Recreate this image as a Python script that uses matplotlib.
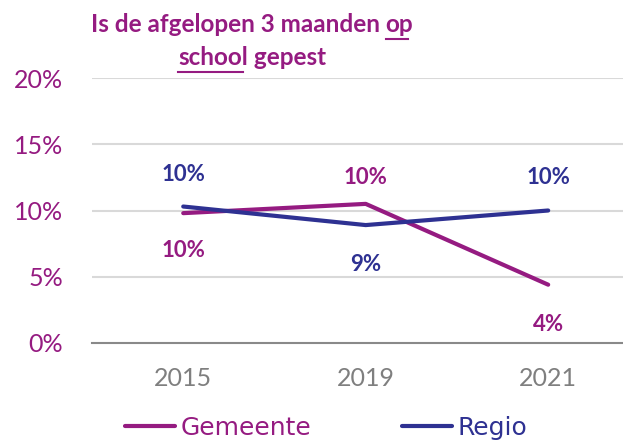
import matplotlib.pyplot as plt

years = ['2015', '2019', '2021']
gemeente = [9.8, 10.5, 4.4]
regio = [10.3, 8.9, 10.0]
gemeente_labels = ['10%', '10%', '4%']
regio_labels = ['10%', '9%', '10%']
yticks = [0, 5, 10, 15, 20]

purple = '#951B81'
navy = '#2E3192'

plt.rcParams['font.family'] = ['Lato', 'DejaVu Sans']

fig = plt.figure(figsize=(6.23, 4.41), dpi=100)
ax = fig.add_axes([92 / 623, 1 - 343 / 441, 531 / 623, 265 / 441])

x = range(len(years))
ax.plot(x, gemeente, color=purple, lw=3, label='Gemeente', solid_capstyle='round')
ax.plot(x, regio, color=navy, lw=3, label='Regio', solid_capstyle='round')

# data labels
g_off = [-2.8, 2.0, -3.0]
r_off = [2.4, -3.0, 2.5]
for i in x:
    ax.text(i, gemeente[i] + g_off[i], gemeente_labels[i], color=purple, ha='center', va='center',
            fontsize=16, fontweight='bold')
    ax.text(i, regio[i] + r_off[i], regio_labels[i], color=navy, ha='center', va='center',
            fontsize=16, fontweight='bold')

ax.set_xlim(-0.5, 2.41)
ax.set_ylim(0, 20)
ax.set_xticks(list(x))
ax.set_xticklabels(years, color='#7f7f7f', fontsize=18)
ax.set_yticks(yticks)
ax.set_yticklabels([f'{v}%' for v in yticks], color=purple, fontsize=18)
ax.tick_params(length=0)
ax.tick_params(axis='x', pad=17)
ax.tick_params(axis='y', pad=21)
for v in yticks[1:]:
    ax.axhline(v, color='#d9d9d9', lw=1.5, zorder=0)
for s in ['top', 'right', 'left']:
    ax.spines[s].set_visible(False)
ax.spines['bottom'].set_color('#898989')
ax.spines['bottom'].set_linewidth(1.5)

leg = ax.legend(loc='center left', bbox_to_anchor=(10 / 531, -85 / 265), ncol=2, frameon=False,
                prop={'family': 'DejaVu Sans', 'size': 18},
                handlelength=2.0, handletextpad=0.25, columnspacing=3.6)
for t, c in zip(leg.get_texts(), [purple, navy]):
    t.set_color(c)

# title with underlined words
fig.canvas.draw()
r = fig.canvas.get_renderer()


def draw_line(parts, y):
    texts = []
    for p, u in parts:
        texts.append((fig.text(0, y, p, color=purple, fontsize=17.5, fontweight='bold', va='baseline'), u))
    widths = [t.get_window_extent(r).width for t, _ in texts]
    start = 252 - sum(widths) / 2
    for (t, u), w in zip(texts, widths):
        t.set_x(start / 623)
        if u:
            y0 = y - 7 / 441
            fig.add_artist(plt.Line2D([start / 623, (start + w - 5) / 623], [y0, y0],
                                      transform=fig.transFigure, color=purple, lw=1.5))
        start += w


draw_line([('Is de afgelopen 3 maanden ', False), ('op', True)], 1 - 32 / 441)
draw_line([('school', True), (' gepest', False)], 1 - 65 / 441)

fig.savefig('out.png', dpi=100)
